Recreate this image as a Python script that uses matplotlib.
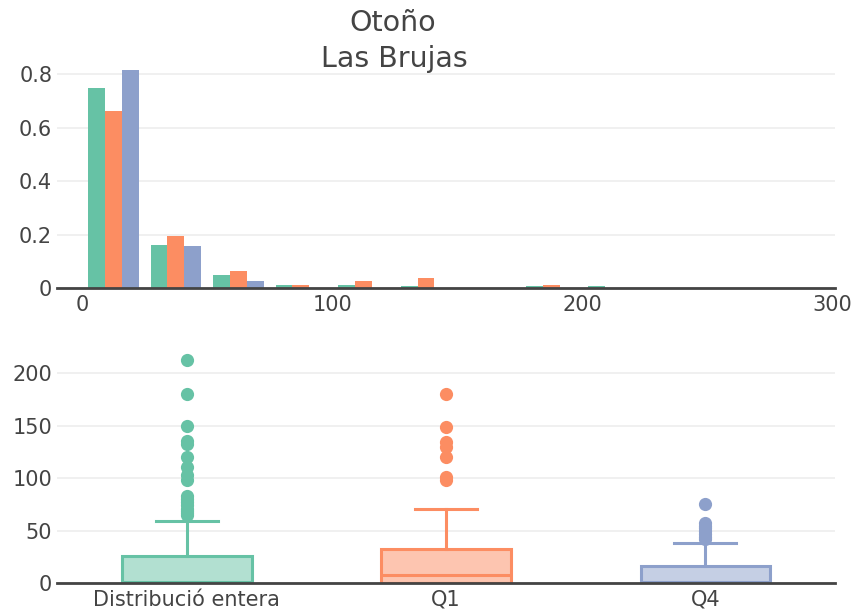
import numpy as np
import matplotlib.pyplot as plt

# histogram (probability per 25-unit bin)
bin_edges = [0, 25, 50, 75, 100, 125, 150, 175, 200, 225]
hist_entera = [0.748, 0.162, 0.050, 0.010, 0.010, 0.008, 0.0, 0.008, 0.008]
hist_q1 = [0.664, 0.193, 0.062, 0.011, 0.025, 0.037, 0.0, 0.012, 0.0]
hist_q4 = [0.818, 0.158, 0.025, 0.0, 0.0, 0.0, 0.0, 0.0, 0.0]

# box plots: categories and stats
box_labels = ["Distribució entera", "Q1", "Q4"]
box_q1 = [0.0, 0.0, 0.0]
box_med = [1.0, 7.3, 1.0]
box_q3 = [25.7, 32.8, 15.9]
box_whislo = [0.0, 0.0, 0.0]
box_whishi = [59.0, 70.8, 38.4]
fliers_entera = [212.8, 179.7, 149.2, 135, 132, 120, 111, 102.6, 97.8,
                 83, 80, 77, 74, 71, 69, 67, 65]
fliers_q1 = [179.7, 149, 134, 130, 120, 101, 97.8]
fliers_q4 = [75, 57, 54, 52, 50, 47, 44, 42]

colors = ["#66c2a5", "#fc8d62", "#8da0cb"]
text_c = "#444444"

plt.rcParams["font.family"] = ["DejaVu Sans"]

fig = plt.figure(figsize=(8.56, 6.11), dpi=100)
ax1 = fig.add_axes([0.0666, 0.5286, 0.9089, 0.3764])
ax2 = fig.add_axes([0.0666, 0.0458, 0.9089, 0.383])

# -------- HISTOGRAM --------
edges = np.array(bin_edges)
centers = (edges[:-1] + edges[1:]) / 2
w = 25 * 0.27
for i, vals in enumerate([hist_entera, hist_q1, hist_q4]):
    ax1.bar(centers + (i - 1) * w, vals, width=w, color=colors[i], zorder=2)

ax1.set_xlim(-10, 301)
ax1.set_ylim(0, 0.861)
ax1.set_xticks([0, 100, 200, 300])
ax1.set_yticks([0, 0.2, 0.4, 0.6, 0.8])
ax1.set_yticklabels(["0", "0.2", "0.4", "0.6", "0.8"])

# -------- BOX PLOTS --------
fliers = [fliers_entera, fliers_q1, fliers_q4]
for i in range(3):
    stats = [dict(med=box_med[i], q1=box_q1[i], q3=box_q3[i],
                  whislo=box_whislo[i], whishi=box_whishi[i], fliers=fliers[i])]
    ax2.bxp(stats, positions=[i], widths=0.5, patch_artist=True,
            showcaps=True,
            boxprops=dict(facecolor=colors[i] + "80", edgecolor=colors[i], linewidth=2.2),
            medianprops=dict(color=colors[i], linewidth=2.2),
            whiskerprops=dict(color=colors[i], linewidth=2.2),
            capprops=dict(color=colors[i], linewidth=2.2),
            capwidths=0.24,
            flierprops=dict(marker="o", markersize=9.5, markerfacecolor=colors[i],
                            markeredgecolor="none"))

ax2.set_xlim(-0.5, 2.5)
ax2.set_ylim(0, 223)
ax2.set_xticks(range(3))
ax2.set_xticklabels(box_labels)
ax2.set_yticks([0, 50, 100, 150, 200])

for ax in (ax1, ax2):
    for s in ax.spines.values():
        s.set_visible(False)
    ax.axhline(0, color="#444444", lw=2, zorder=5, clip_on=False)
    ax.grid(axis="y", color="#eeeeee", lw=1.2, zorder=0)
    ax.set_axisbelow(True)
    ax.tick_params(length=0, labelsize=15, colors=text_c)
    ax.tick_params(axis="y", pad=3.5)
    ax.tick_params(axis="x", pad=5)

fig.text(0.459, 0.962, "Otoño", ha="center", va="center", fontsize=20.5, color=text_c)
fig.text(0.461, 0.904, "Las Brujas", ha="center", va="center", fontsize=20.5, color=text_c)

fig.savefig("out.png", dpi=100)
